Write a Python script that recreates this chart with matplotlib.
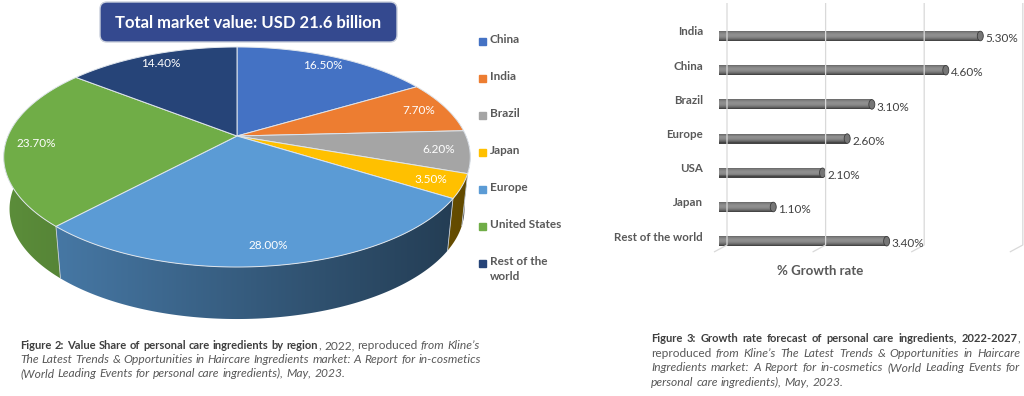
import numpy as np
import matplotlib
matplotlib.use('Agg')
import matplotlib.pyplot as plt
from matplotlib.patches import Polygon, FancyBboxPatch, Ellipse, Rectangle
from matplotlib.colors import to_rgb

plt.rcParams['font.family'] = ['Lato', 'DejaVu Sans']

# ---- data ----
regions = ['China', 'India', 'Brazil', 'Japan', 'Europe', 'United States', 'Rest of the world']
legend_labels = ['China', 'India', 'Brazil', 'Japan', 'Europe', 'United States', 'Rest of the\nworld']
shares = [16.5, 7.7, 6.2, 3.5, 28.0, 23.7, 14.4]
colors = ['#4472c4', '#ed7d31', '#a5a5a5', '#ffc000', '#5b9bd5', '#70ad47', '#264478']

growth_regions = ['India', 'China', 'Brazil', 'Europe', 'USA', 'Japan', 'Rest of the world']
growth = [5.3, 4.6, 3.1, 2.6, 2.1, 1.1, 3.4]
grid_ticks = [0, 2, 4, 6]

title = 'Total market value: USD 21.6 billion'
growth_xlabel = '% Growth rate'

caption_left = [
    [('Figure 2: Value Share of personal care ingredients by region', 'b'),
     (', 2022, reproduced ', 'n'), ('from Kline\u2019s', 'i')],
    [('The Latest Trends & Opportunities in Haircare Ingredients market: A Report for in-cosmetics', 'i')],
    [('(World Leading Events for personal care ingredients), May, 2023.', 'i')],
]
caption_right = [
    [('Figure 3: Growth rate forecast of personal care ingredients, 2022-2027', 'b'), (',', 'n')],
    [('reproduced ', 'n'), ('from Kline\u2019s The Latest Trends & Opportunities in Haircare', 'i')],
    [('Ingredients market: A Report for in-cosmetics (World Leading Events for', 'i')],
    [('personal care ingredients), May, 2023.', 'i')],
]

# pie geometry in pixels (perspective tilted disc)
CX, CY = 237, 136
A, B, K = 106, 229, 0.191
DEPTH = 52
SHRINK = 0.975
LABEL_R = 0.87


def proj(r, ang):
    a = np.radians(ang)
    u, v = r * np.sin(a), r * np.cos(a)
    d = 1 + K * v
    return CX + B * u / d, CY - A * v / d


def drop(x, y):
    return CX + (x - CX) * SHRINK, y + DEPTH


fig = plt.figure(figsize=(10.24, 3.96), dpi=100)
ax0 = fig.add_axes([0, 0, 1, 1])

bounds = np.concatenate([[0], np.cumsum(shares)]) * 3.6

# side wall of the pie (front half only), shaded left->right
xs = np.linspace(0, 480, 480)
shade = 0.82 - 0.44 * (xs - 4) / 466
for k in range(len(shares)):
    a0, a1 = max(bounds[k], 80), min(bounds[k + 1], 280)
    if a1 <= a0:
        continue
    angs = np.linspace(a0, a1, 150)
    top = [proj(1, a) for a in angs]
    bot = [drop(x, y) for x, y in top][::-1]
    poly = Polygon(top + bot, closed=True, fc='none', ec='none')
    ax0.add_patch(poly)
    img = np.clip(np.array(to_rgb(colors[k]))[None, None, :] * shade[None, :, None], 0, 1)
    im = ax0.imshow(img, extent=(0, 480, 330, 60), aspect='auto', zorder=0.5,
                    interpolation='bilinear')
    im.set_clip_path(poly)

for b in bounds:
    if 90 < b < 270:
        x, y = proj(1, b)
        xb, yb = drop(x, y)
        ax0.plot([x, xb], [y, yb], color='#c5ced8', lw=0.6, zorder=0.6)

# top face
for k in range(len(shares)):
    angs = np.linspace(bounds[k], bounds[k + 1], 120)
    pts = [(CX, CY)] + [proj(1, a) for a in angs]
    ax0.add_patch(Polygon(pts, closed=True, fc=colors[k], ec='#dfe5ec', lw=0.7, zorder=1))

for k in range(len(shares)):
    x, y = proj(LABEL_R, (bounds[k] + bounds[k + 1]) / 2)
    ax0.text(x, y, f'{shares[k]:.2f}%', color='white', fontsize=8.5,
             ha='center', va='center')

# title box
ax0.add_patch(FancyBboxPatch((100, 2), 297, 40, boxstyle='round,pad=0,rounding_size=7',
                             fc='#34498f', ec='#c9cfdc', lw=1.0))
ax0.text(248, 23, title, color='white', fontsize=12, fontweight='bold',
         ha='center', va='center')

# legend
for k, lab in enumerate(legend_labels):
    y = 41 + 37 * k
    ax0.add_patch(Rectangle((479, y - 3.5), 7, 7, color=colors[k]))
    ax0.text(490, y - 7, lab, color='#595959', fontsize=8.5, fontweight='bold',
             ha='left', va='top', linespacing=1.45)

ax0.set_xlim(0, 1024)
ax0.set_ylim(396, 0)
ax0.axis('off')

# captions (mixed bold / regular / italic runs)
STYLES = {'b': dict(fontweight='bold', color='#3f3f3f'),
          'n': dict(color='#595959'),
          'i': dict(fontstyle='italic', color='#595959')}
SCALE = {'b': 1.0, 'n': 1.07, 'i': 1.08}
renderer = fig.canvas.get_renderer()


def text_width(s, size, st):
    t = ax0.text(0, 0, s, fontsize=size * SCALE[st], **STYLES[st])
    w = t.get_window_extent(renderer).width
    t.remove()
    return w


def draw_line(x, y, runs, size, width=None):
    words = [[]]
    for txt, st in runs:
        for j, p in enumerate(txt.split(' ')):
            if j > 0:
                words.append([])
            if p:
                words[-1].append((p, st))
    words = [w for w in words if w]
    widths = [[text_width(p, size, st) for p, st in w] for w in words]
    total = sum(sum(w) for w in widths)
    if width is not None and len(words) > 1:
        gap = (width - total) / (len(words) - 1)
    else:
        gap = text_width('a a', size, 'n') - text_width('aa', size, 'n')
    cx = x
    for w, ws in zip(words, widths):
        for (p, st), pw in zip(w, ws):
            ax0.text(cx, y, p, fontsize=size * SCALE[st], va='baseline', ha='left',
                     **STYLES[st])
            cx += pw
        cx += gap


for j, runs in enumerate(caption_left):
    draw_line(20, 349 + 14 * j, runs, 8.0)
for j, runs in enumerate(caption_right):
    last = j == len(caption_right) - 1
    draw_line(651, 342 + 14.7 * j, runs, 8.0, width=None if last else 369)

# ---- growth bar chart ----
PX = 49.3      # pixels per growth unit
ROW = 34.2     # pixels per row
ax1 = fig.add_axes([705 / 1024, (396 - 260) / 396, 319 / 1024, 260 / 396])
ax1.set_xlim(-14 / PX, 305 / PX)
ax1.set_ylim((260 - 36) / ROW, -36 / ROW)
ax1.axis('off')

off = 8 / PX
for g in grid_ticks:
    ax1.plot([g + off, g + off, g + off - 13 / PX], [-33 / ROW, 209 / ROW, 216 / ROW],
             color='#d9d9d9', lw=0.9, solid_capstyle='butt', clip_on=False)

h = 0.28
N = 10
ts = np.linspace(-1, 1, N)
for i, v in enumerate(growth):
    for t in ts:
        g = 0.27 + 0.29 * (1 - ((t + 0.2) / 1.2) ** 2)
        ax1.barh(i + t * h / 2 * (N - 1) / N, v, height=h / N * 1.4, left=0,
                 color=(g, g, g), lw=0)
    ax1.add_patch(Ellipse((v, i), 6 / PX, h, fc='#767676', ec='#3c3c3c', lw=0.6))
    ax1.text(v + 5 / PX, i + 0.08, f'{v:.2f}%', color='#404040', fontsize=8.5,
             ha='left', va='center')
    ax1.text(-16 / PX, i - 0.12, growth_regions[i], color='#595959', fontsize=8.3,
             fontweight='bold', ha='right', va='center', clip_on=False)

ax0.text(820, 271, growth_xlabel, color='#595959', fontsize=9.5, fontweight='bold',
         ha='center', va='center')

fig.savefig('out.png', dpi=100)
